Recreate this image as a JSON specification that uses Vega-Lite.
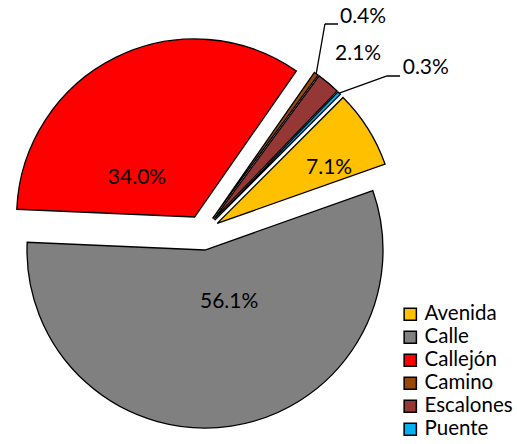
{
  "$schema": "https://vega.github.io/schema/vega-lite/v6.json",
  "width": 517,
  "height": 444,
  "autosize": {"type": "none"},
  "padding": 0,
  "background": "white",
  "config": {"view": {"stroke": null}, "text": {"font": "Lato"}},
  "data": {
    "values": [
      {"cat": "Avenida", "share": 0.071},
      {"cat": "Calle", "share": 0.561},
      {"cat": "Callejón", "share": 0.340},
      {"cat": "Camino", "share": 0.004},
      {"cat": "Escalones", "share": 0.021},
      {"cat": "Puente", "share": 0.003}
    ]
  },
  "transform": [
    {"stack": "share", "groupby": [], "sort": [{"field": "cat", "order": "ascending"}], "as": ["v0", "v1"]}
  ],
  "layer": [
    {
      "transform": [{"filter": "datum.cat === 'Avenida'"}],
      "mark": {"type": "arc", "radius": 178, "xOffset": -41.3, "yOffset": 1.4, "stroke": "black", "strokeWidth": 1.3},
      "encoding": {
        "theta": {"field": "v0", "type": "quantitative", "scale": {"domain": [0, 1], "range": [0.785, 7.068]}},
        "theta2": {"field": "v1"},
        "color": {"field": "cat", "type": "nominal",
        "scale": {"domain": ["Avenida", "Calle", "Callejón", "Camino", "Escalones", "Puente"], "range": ["#FFC000", "#808080", "#FF0000", "#984807", "#953735", "#00B0F0"]},
        "legend": {"orient": "none", "legendX": 400, "legendY": 304, "title": null, "symbolType": "square", "symbolSize": 150, "symbolStrokeColor": "black", "symbolStrokeWidth": 1.5, "labelFont": "Lato", "labelFontSize": 20.5, "labelColor": "black", "rowPadding": 2, "labelOffset": 4}}}
    },
    {
      "transform": [{"filter": "datum.cat === 'Calle'"}],
      "mark": {"type": "arc", "radius": 178, "xOffset": -53.5, "yOffset": 28.0, "stroke": "black", "strokeWidth": 1.3},
      "encoding": {"theta": {"field": "v0", "type": "quantitative"}, "theta2": {"field": "v1"}, "color": {"field": "cat", "type": "nominal"}}
    },
    {
      "transform": [{"filter": "datum.cat === 'Callejón'"}],
      "mark": {"type": "arc", "radius": 178, "xOffset": -63.9, "yOffset": -5.0, "stroke": "black", "strokeWidth": 1.3},
      "encoding": {"theta": {"field": "v0", "type": "quantitative"}, "theta2": {"field": "v1"}, "color": {"field": "cat", "type": "nominal"}}
    },
    {
      "transform": [{"filter": "datum.cat === 'Camino'"}],
      "mark": {"type": "arc", "radius": 178, "xOffset": -45.9, "yOffset": -3.5, "stroke": "black", "strokeWidth": 1.3},
      "encoding": {"theta": {"field": "v0", "type": "quantitative"}, "theta2": {"field": "v1"}, "color": {"field": "cat", "type": "nominal"}}
    },
    {
      "transform": [{"filter": "datum.cat === 'Escalones'"}],
      "mark": {"type": "arc", "radius": 178, "xOffset": -44.8, "yOffset": -2.7, "stroke": "black", "strokeWidth": 1.3},
      "encoding": {"theta": {"field": "v0", "type": "quantitative"}, "theta2": {"field": "v1"}, "color": {"field": "cat", "type": "nominal"}}
    },
    {
      "transform": [{"filter": "datum.cat === 'Puente'"}],
      "mark": {"type": "arc", "radius": 178, "xOffset": -43.9, "yOffset": -1.8, "stroke": "black", "strokeWidth": 1.3},
      "encoding": {"theta": {"field": "v0", "type": "quantitative"}, "theta2": {"field": "v1"}, "color": {"field": "cat", "type": "nominal"}}
    },
    {
      "transform": [{"filter": "datum.cat === 'Camino'"}],
      "mark": {"type": "arc", "radius": 50.6, "radius2": 0, "thetaOffset": -0.435, "theta2Offset": -0.435, "xOffset": 57.7, "yOffset": -148.2, "stroke": "black", "strokeWidth": 1.3, "fill": null},
      "encoding": {"theta": {"field": "v0", "type": "quantitative"}, "theta2": {"field": "v0"}}
    },
    {
      "transform": [{"filter": "datum.cat === 'Camino'"}],
      "mark": {"type": "arc", "radius": 13, "radius2": 0, "thetaOffset": 0.961, "theta2Offset": 0.961, "xOffset": 66.5, "yOffset": -198, "stroke": "black", "strokeWidth": 1.3, "fill": null},
      "encoding": {"theta": {"field": "v0", "type": "quantitative"}, "theta2": {"field": "v0"}}
    },
    {
      "transform": [{"filter": "datum.cat === 'Puente'"}],
      "mark": {"type": "arc", "radius": 50.8, "radius2": 0, "thetaOffset": 0.461, "theta2Offset": 0.461, "xOffset": 80.7, "yOffset": -128.9, "stroke": "black", "strokeWidth": 1.3, "fill": null},
      "encoding": {"theta": {"field": "v0", "type": "quantitative"}, "theta2": {"field": "v0"}}
    },
    {
      "transform": [{"filter": "datum.cat === 'Puente'"}],
      "mark": {"type": "arc", "radius": 13, "radius2": 0, "thetaOffset": 0.804, "theta2Offset": 0.804, "xOffset": 128.5, "yOffset": -146, "stroke": "black", "strokeWidth": 1.3, "fill": null},
      "encoding": {"theta": {"field": "v0", "type": "quantitative"}, "theta2": {"field": "v0"}}
    },
    {
      "mark": {"type": "text", "radius": 55, "xOffset": -37.5, "yOffset": 26, "fontSize": 21, "font": "Lato", "color": "black", "align": "center", "baseline": "middle"},
      "encoding": {
        "theta": {"field": "share", "type": "quantitative", "stack": true},
        "order": {"field": "cat", "type": "ordinal"},
        "text": {"condition": {"test": "datum.cat === 'Calle'", "field": "share", "type": "quantitative", "format": ".1%"}, "value": ""}
      }
    },
    {
      "mark": {"type": "text", "radius": 60, "xOffset": -94.9, "yOffset": 10, "fontSize": 21, "font": "Lato", "color": "black", "align": "center", "baseline": "middle"},
      "encoding": {
        "theta": {"field": "share", "type": "quantitative", "stack": true},
        "order": {"field": "cat", "type": "ordinal"},
        "text": {"condition": {"test": "datum.cat === 'Callejón'", "field": "share", "type": "quantitative", "format": ".1%"}, "value": ""}
      }
    },
    {
      "mark": {"type": "text", "radius": 124, "xOffset": -34.3, "yOffset": 12.4, "fontSize": 21, "font": "Lato", "color": "black", "align": "center", "baseline": "middle"},
      "encoding": {
        "theta": {"field": "share", "type": "quantitative", "stack": true},
        "order": {"field": "cat", "type": "ordinal"},
        "text": {"condition": {"test": "datum.cat === 'Avenida'", "field": "share", "type": "quantitative", "format": ".1%"}, "value": ""}
      }
    },
    {
      "mark": {"type": "text", "radius": 219, "xOffset": -41.5, "yOffset": -0.5, "fontSize": 21, "font": "Lato", "color": "black", "align": "center", "baseline": "middle"},
      "encoding": {
        "theta": {"field": "share", "type": "quantitative", "stack": true},
        "order": {"field": "cat", "type": "ordinal"},
        "text": {"condition": {"test": "datum.cat === 'Escalones'", "field": "share", "type": "quantitative", "format": ".1%"}, "value": ""}
      }
    },
    {
      "mark": {"type": "text", "radius": 251, "xOffset": -41.6, "yOffset": -0.9, "fontSize": 21, "font": "Lato", "color": "black", "align": "center", "baseline": "middle"},
      "encoding": {
        "theta": {"field": "share", "type": "quantitative", "stack": true},
        "order": {"field": "cat", "type": "ordinal"},
        "text": {"condition": {"test": "datum.cat === 'Camino'", "field": "share", "type": "quantitative", "format": ".1%"}, "value": ""}
      }
    },
    {
      "mark": {"type": "text", "radius": 256, "xOffset": -11.9, "yOffset": 29.2, "fontSize": 21, "font": "Lato", "color": "black", "align": "center", "baseline": "middle"},
      "encoding": {
        "theta": {"field": "share", "type": "quantitative", "stack": true},
        "order": {"field": "cat", "type": "ordinal"},
        "text": {"condition": {"test": "datum.cat === 'Puente'", "field": "share", "type": "quantitative", "format": ".1%"}, "value": ""}
      }
    }
  ]
}
